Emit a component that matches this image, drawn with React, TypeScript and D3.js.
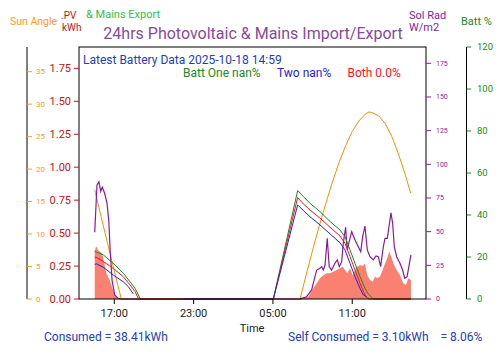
import * as d3 from 'd3';

// hours are counted from 2025-10-17 00:00, so 29 = 05:00 next day
const pvHours = [15.52, 15.64, 15.77, 15.9, 16.02, 16.15, 16.27, 16.4, 16.52, 16.65, 16.77, 16.9, 17.03, 17.15, 17.41, 17.6,
  31.0, 31.18, 31.68, 32.05, 32.31, 32.56, 32.81, 33.07, 33.32, 33.57, 33.82, 34.07, 34.28, 34.45, 34.62, 34.83, 35.03, 35.21,
  35.38, 35.59, 35.79, 35.96, 36.14, 36.34, 36.55, 36.72, 36.89, 37.1, 37.3, 37.48, 37.65, 37.8, 37.99, 38.16, 38.36, 38.61,
  38.86, 39.06, 39.24, 39.44];
const pvKwh = [0.37, 0.4, 0.37, 0.36, 0.35, 0.32, 0.26, 0.195, 0.17, 0.144, 0.106, 0.068, 0.038, 0.017, 0.005, 0,
  0, 0.005, 0.017, 0.08, 0.12, 0.157, 0.18, 0.195, 0.195, 0.207, 0.22, 0.233, 0.245, 0.22, 0.195, 0.233, 0.18, 0.22,
  0.245, 0.258, 0.25, 0.27, 0.18, 0.144, 0.131, 0.17, 0.157, 0.17, 0.22, 0.27, 0.31, 0.36, 0.31, 0.258, 0.22, 0.18,
  0.12, 0.106, 0.157, 0.144];

const sunHours = [15.52, 16.0, 16.5, 17.0, 17.53, 24.0, 31.05, 31.5, 32.0, 32.5, 33.0, 33.5, 34.0, 34.5, 35.0, 35.5, 36.0,
  36.27, 36.5, 37.0, 37.5, 38.0, 38.5, 39.0, 39.42];
const sunAngle = [16.8, 12.7, 8.5, 4.3, 0, 0, 0, 3.6, 7.5, 11.2, 14.7, 18.0, 21.0, 23.6, 25.8, 27.4, 28.5,
  28.8, 28.7, 28.2, 27.0, 25.0, 22.3, 19.2, 16.3];

const radHours = [15.52, 15.69, 15.84, 15.97, 16.09, 16.27, 16.45, 16.58, 16.7, 16.83, 17.03, 17.28, 17.5, 31.05, 31.18,
  31.55, 31.93, 32.18, 32.31, 32.56, 32.69, 32.81, 32.94, 33.11, 33.26, 33.44, 33.69, 33.87, 34.02, 34.2, 34.32, 34.5,
  34.62, 34.83, 34.96, 35.21, 35.46, 35.64, 35.79, 35.96, 36.14, 36.34, 36.59, 36.8, 36.97, 37.15, 37.35, 37.48, 37.65,
  37.8, 37.93, 38.06, 38.18, 38.36, 38.61, 38.81, 38.97, 39.15, 39.3, 39.44];
const solRad = [49.5, 84.6, 87.0, 80.0, 83.0, 78.5, 71.0, 58.6, 34.0, 14.0, 3.0, 0.5, 0, 0, 0.5,
  1.7, 6.7, 16.6, 21.5, 22.8, 24.0, 21.5, 25.0, 45.0, 24.0, 21.5, 26.5, 29.0, 24.0, 27.7, 41.3, 53.2,
  36.4, 45.0, 50.0, 43.8, 38.8, 35.1, 46.3, 54.2, 36.4, 31.4, 29.0, 32.0, 31.4, 24.0, 38.8, 45.0, 45.0,
  55.0, 64.0, 56.0, 38.8, 31.4, 26.5, 21.5, 15.4, 16.6, 25.0, 32.7];

const battOneHours = [15.52, 15.67, 16.17, 16.92, 17.68, 18.19, 18.57, 18.82, 18.94, 19.0, 29.03, 30.87, 31.3, 31.8,
  32.56, 33.32, 34.07, 34.45, 34.83, 35.21, 35.59, 35.96, 36.21, 36.55, 36.7, 39.44];
const battOne = [22.6, 22.3, 21.0, 17.0, 12.3, 8.2, 5.1, 1.9, 0.3, 0, 0, 51.6, 48.8, 45.6,
  41.6, 36.9, 32.9, 29.7, 23.4, 17.0, 10.6, 5.1, 2.4, 0.3, 0, 0];

const battBothHours = [15.52, 15.67, 16.17, 16.92, 17.68, 18.19, 18.57, 18.82, 18.9, 29.03, 30.87, 31.3, 31.8,
  32.56, 33.32, 34.07, 34.45, 34.83, 35.21, 35.59, 35.96, 36.14, 36.3, 39.44];
const battBoth = [20.0, 19.7, 17.8, 14.6, 10.6, 6.7, 3.5, 0.3, 0, 0, 48.3, 45.3, 42.4,
  38.5, 34.2, 30.0, 26.6, 20.2, 13.8, 7.5, 1.9, 0.3, 0, 0];

const battTwoHours = [15.52, 15.67, 16.17, 16.92, 17.68, 18.06, 18.44, 20.0, 22.3, 29.03, 30.87, 31.3, 31.8,
  32.56, 33.32, 34.07, 34.45, 34.83, 35.21, 35.59, 35.84, 36.09];
const battTwo: (number | null)[] = [16.5, 16.7, 15.1, 11.4, 8.2, 5.9, 2.4, null, 0, 0, 44.8, 42.1, 39.2,
  35.3, 31.0, 26.8, 23.4, 17.0, 10.6, 5.1, 1.9, 1.1];

const kwhTicks = [0, 0.25, 0.5, 0.75, 1.0, 1.25, 1.5, 1.75];
const sunTicks = [0, 5, 10, 15, 20, 25, 30, 35];
const radTicks = [0, 25, 50, 75, 100, 125, 150, 175];
const battTicks = [0, 20, 40, 60, 80, 100, 120];
const timeTicks = [17, 23, 29, 35];
const timeLabels = ['17:00', '23:00', '05:00', '11:00'];

const L = 79, R = 426, T = 47, B = 299;
const FONT = 'Roboto, sans-serif';

const C = {
  title: '#874a9e',
  sun: '#ff9a1f',
  sunLine: '#ff8c00',
  kwh: '#cc1111',
  pv: '#fa8072',
  rad: '#8b1a9b',
  batt: '#1a8a1a',
  export: '#2ec24a',
  blue: '#2040c0',
  two: '#2222dd',
  both: '#ff1111',
};

const zip = (h: number[], v: (number | null)[]) => h.map((t, i) => ({ t, v: v[i] }));

export default function App() {
  const x = d3.scaleLinear().domain([14.33, 40.58]).range([L, R]);
  const yKwh = d3.scaleLinear().domain([0, 1.912]).range([B, T]);
  const ySun = d3.scaleLinear().domain([0, 38.8]).range([B, T]);
  const yRad = d3.scaleLinear().domain([0, 187.1]).range([B, T]);
  const yBatt = d3.scaleLinear().domain([0, 120]).range([B, T]);

  const pvArea = d3.area<{ t: number; v: number | null }>()
    .x(d => x(d.t)).y0(B).y1(d => yKwh(d.v as number))(zip(pvHours, pvKwh));

  const mkLine = (y: d3.ScaleLinear<number, number>) =>
    d3.line<{ t: number; v: number | null }>()
      .defined(d => d.v != null)
      .x(d => x(d.t)).y(d => y(d.v as number));

  const sunPath = mkLine(ySun)(zip(sunHours, sunAngle));
  const radPath = mkLine(yRad)(zip(radHours, solRad));
  const onePath = mkLine(yBatt)(zip(battOneHours, battOne));
  const bothPath = mkLine(yBatt)(zip(battBothHours, battBoth));
  const twoPath = mkLine(yBatt)(zip(battTwoHours, battTwo));

  return (
    <svg width={500} height={353} style={{ position: 'absolute', left: 0, top: 0, background: '#fff' }} fontFamily={FONT}>
      {/* header texts */}
      <text x={10} y={25} fontSize={10.5} fill={C.sun}>Sun Angle</text>
      <text x={61} y={19} fontSize={10} fill={C.kwh}>.PV</text>
      <text x={62} y={30.5} fontSize={10} fill={C.kwh}>kWh</text>
      <text x={86} y={18} fontSize={11} fill={C.export}>&amp; Mains Export</text>
      <text x={253} y={39} fontSize={16} fill={C.title} textAnchor="middle">24hrs Photovoltaic &amp; Mains Import/Export</text>
      <text x={409} y={19} fontSize={11} fill={C.rad}>Sol Rad</text>
      <text x={409} y={30.5} fontSize={11} fill={C.rad}>W/m2</text>
      <text x={461} y={24.5} fontSize={11} fill={C.batt}>Batt %</text>

      {/* data */}
      <path d={pvArea ?? ''} fill={C.pv} />
      <path d={sunPath ?? ''} fill="none" stroke={C.sunLine} strokeWidth={1} />
      <path d={radPath ?? ''} fill="none" stroke={C.rad} strokeWidth={1.2} />
      <path d={onePath ?? ''} fill="none" stroke={C.batt} strokeWidth={1} />
      <path d={bothPath ?? ''} fill="none" stroke={C.both} strokeWidth={1} />
      <path d={twoPath ?? ''} fill="none" stroke={C.two} strokeWidth={1} />

      {/* frame */}
      <rect x={L} y={T} width={R - L} height={B - T} fill="none" stroke="#000" strokeWidth={1} />

      {/* sun angle axis */}
      <line x1={27} x2={27} y1={T} y2={B} stroke="#000" />
      {sunTicks.map(t => (
        <g key={'s' + t}>
          <line x1={27} x2={32} y1={ySun(t)} y2={ySun(t)} stroke={C.sun} />
          <text x={36} y={ySun(t)} dy="0.32em" fontSize={8} fill={C.sun}>{t}</text>
        </g>
      ))}

      {/* kWh axis */}
      {kwhTicks.map(t => (
        <g key={'k' + t}>
          <line x1={74} x2={L} y1={yKwh(t)} y2={yKwh(t)} stroke={C.kwh} />
          <text x={71} y={yKwh(t)} dy="0.35em" fontSize={11} fill={C.kwh} textAnchor="end">{t.toFixed(2)}</text>
        </g>
      ))}

      {/* sol rad axis */}
      {radTicks.map(t => (
        <g key={'r' + t}>
          <line x1={R} x2={R + 5} y1={yRad(t)} y2={yRad(t)} stroke={C.rad} />
          <text x={R + 10} y={yRad(t)} dy="0.32em" fontSize={7} fill={C.rad}>{t}</text>
        </g>
      ))}

      {/* batt axis */}
      <line x1={466.5} x2={466.5} y1={T} y2={B} stroke="#000" />
      {battTicks.map(t => (
        <g key={'b' + t}>
          <line x1={466.5} x2={471} y1={yBatt(t)} y2={yBatt(t)} stroke={C.batt} />
          <text x={477} y={yBatt(t)} dy="0.32em" fontSize={9.5} fill={C.batt}>{t}</text>
        </g>
      ))}

      {/* time axis */}
      {timeTicks.map((t, i) => (
        <g key={'t' + t}>
          <line x1={x(t)} x2={x(t)} y1={B} y2={B + 5} stroke="#000" />
          <text x={x(t)} y={316.5} fontSize={11} fill="#222" textAnchor="middle">{timeLabels[i]}</text>
        </g>
      ))}
      <text x={252} y={331.5} fontSize={11} fill="#222" textAnchor="middle">Time</text>

      {/* inside labels */}
      <text x={83} y={63.5} fontSize={12} fill={C.blue}>Latest Battery Data 2025-10-18 14:59</text>
      <text x={183} y={76.5} fontSize={12} fill={C.batt}>Batt One nan%</text>
      <text x={277} y={76.5} fontSize={12} fill={C.two}>Two nan%</text>
      <text x={347.5} y={76.5} fontSize={12} fill={C.both}>Both 0.0%</text>

      {/* footer */}
      <text x={44} y={341} fontSize={12} fill={C.blue}>Consumed = 38.41kWh</text>
      <text x={288} y={341} fontSize={12} fill={C.blue} style={{ whiteSpace: 'pre' }}>Self Consumed = 3.10kWh    = 8.06%</text>
    </svg>
  );
}
